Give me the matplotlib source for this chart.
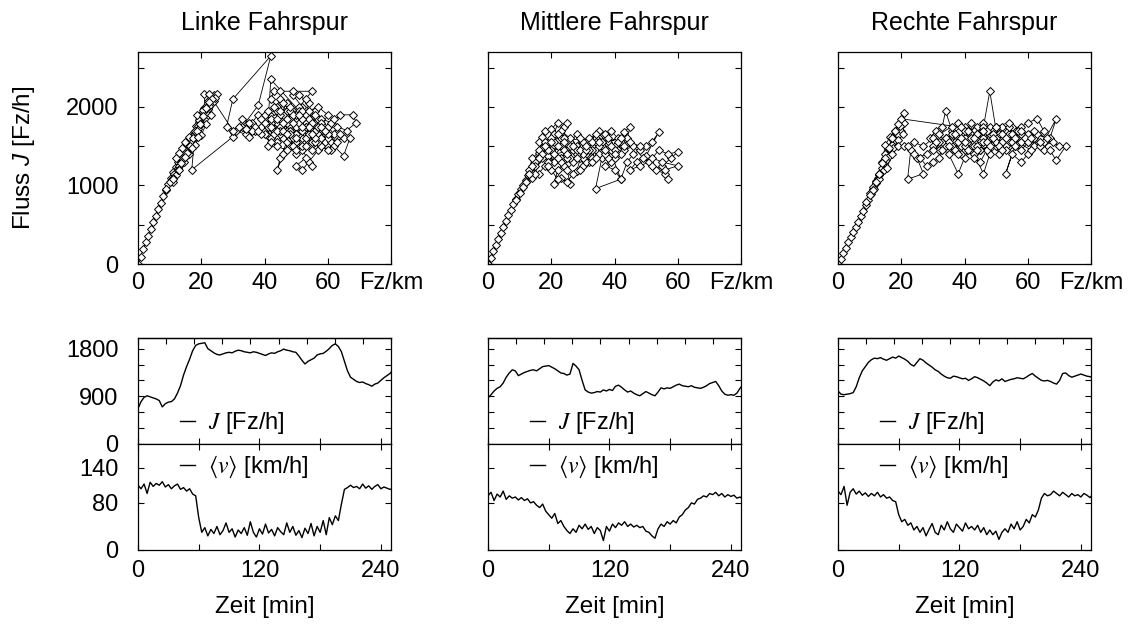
import numpy as np
import matplotlib
matplotlib.use('Agg')
import matplotlib.pyplot as plt
from matplotlib.ticker import MultipleLocator

plt.rcParams['font.family'] = ['Liberation Sans', 'DejaVu Sans']
plt.rcParams['mathtext.fontset'] = 'custom'
plt.rcParams['mathtext.it'] = 'Liberation Sans:italic'
plt.rcParams['mathtext.rm'] = 'Liberation Sans'

# =========================================================
# DATEN: Fundamentaldiagramme (Dichte [Fz/km], Fluss [Fz/h])
# =========================================================
dichte_links = [
    0, 0.8, 1.6, 2.4, 3.2, 4.0, 4.8, 5.6, 6.4, 7.2,
    8.0, 8.8, 9.6, 10.4, 11.2, 12.0, 12.8, 13.6, 14.4, 15.2,
    16.0, 16.8, 17.6, 18.4, 19.2, 20.0, 21.0, 22.0, 23.0, 24.0,
    25.0, 23.5, 22, 20.5, 19, 17.5, 16.5, 15.5, 14.5, 13.5,
    12.5, 11.5, 11, 12, 13, 14, 15, 16, 17, 18,
    19, 20, 21, 21, 22.5, 24, 22, 20, 18, 17,
    16, 15, 14, 13, 12, 14.5, 16, 18, 20, 21.5,
    23, 24.5, 22.5, 20.5, 18.5, 17, 30, 28, 30, 42,
    38, 33, 36, 38, 40, 43, 45, 47, 44, 42,
    46, 48, 50, 52, 49, 51, 54, 53, 56, 58,
    55, 52, 50, 48, 46, 44, 41, 43, 45, 47,
    49, 51, 53, 55, 57, 60, 62, 59, 57, 54,
    52, 50, 53, 55, 52, 49, 47, 45, 44, 46,
    48, 50, 52, 54, 56, 58, 61, 64, 68, 69,
    66, 63, 61, 65, 67, 65, 62, 60, 57, 55,
    52, 50, 48, 46, 44, 42, 43, 45, 49, 55,
    53, 51, 49, 47, 45, 42, 39, 37, 35, 33,
    31, 34, 37, 40, 42, 45, 47, 50, 53, 56,
    58, 60, 63, 61, 58, 55, 52, 49, 47, 44,
    42, 39, 36, 34, 32, 35, 38, 41, 42, 51,
    53, 50, 48, 52, 55, 57, 59, 62, 64, 60,
    40, 42, 44, 46, 48, 50, 52, 54, 56, 58,
    57, 55, 53, 51, 49, 47, 45, 43, 41, 39,
    41, 43, 45, 47, 49, 51, 53, 55, 57, 59,
    58, 56, 54, 52, 50, 48, 46, 44, 42, 40,
    44, 46, 48, 50, 52, 54, 56, 53, 50, 47,
    45, 48, 51, 54, 57, 60, 58, 55, 52, 49,
    30, 23.5, 22.5, 21.5, 20.5, 19.5, 18.5, 17.5, 16.5, 15.5,
    14.5, 13.5, 12.5, 11, 10, 9, 11, 13, 15, 17, 19,
]
fluss_links = [
    0, 95, 185, 275, 360, 450, 530, 615, 700, 780,
    860, 940, 1020, 1100, 1170, 1240, 1300, 1350, 1400, 1460,
    1530, 1600, 1680, 1760, 1840, 1910, 1990, 2070, 2120, 2150,
    2160, 2050, 1980, 1880, 1760, 1640, 1550, 1460, 1380, 1300,
    1220, 1140, 1050, 1130, 1250, 1350, 1420, 1500, 1580, 1660,
    1720, 1800, 1920, 2160, 2160, 2080, 1900, 1780, 1700, 1560,
    1620, 1550, 1480, 1420, 1350, 1300, 1400, 1520, 1640, 1780,
    1900, 2120, 2010, 1960, 1900, 1200, 1620, 1750, 2100, 2650,
    2020, 1750, 1800, 1900, 1850, 1950, 2100, 2050, 1800, 1700,
    1650, 1750, 1850, 2000, 2150, 2150, 2050, 1900, 1800, 1700,
    1600, 1550, 1400, 1500, 1600, 1550, 1500, 1700, 1850, 1950,
    1800, 1700, 1650, 1750, 1850, 1750, 1650, 1550, 1450, 1300,
    1200, 1250, 1350, 1250, 1450, 1650, 1550, 1350, 1200, 1400,
    1600, 1700, 1800, 1850, 1950, 1850, 1800, 1900, 1900, 1800,
    1700, 1750, 1550, 1600, 1600, 1380, 1500, 1600, 1650, 1700,
    1650, 1550, 1850, 1900, 2000, 2100, 2200, 2200, 2200, 2200,
    2100, 2000, 1950, 1800, 1750, 1800, 1750, 1700, 1800, 1850,
    1700, 1650, 1750, 1650, 1600, 1650, 1700, 1750, 1800, 1700,
    1600, 1650, 1550, 1450, 1500, 1550, 1600, 1500, 1450, 1500,
    1550, 1650, 1700, 1720, 1750, 1620, 1700, 1750, 2350, 1950,
    1750, 1650, 1700, 1500, 1450, 1550, 1700, 1850, 1650, 1450,
    1900, 1850, 1950, 2050, 1950, 1900, 1950, 1850, 1900, 1800,
    1750, 1800, 1750, 1800, 1900, 1850, 1900, 2000, 1950, 1850,
    1750, 1650, 1700, 1650, 1600, 1650, 1600, 1650, 1750, 1700,
    1600, 1550, 1650, 1700, 1650, 1700, 1800, 1700, 1750, 1800,
    1850, 1700, 1650, 1600, 1850, 1750, 1600, 1500, 1450, 1650,
    1950, 2000, 1900, 1950, 2000, 1900, 1750, 1650, 1750, 1800,
    1700, 2100, 2060, 1990, 1880, 1780, 1700, 1600, 1500, 1420,
    1350, 1280, 1200, 1100, 1040, 950, 1080, 1200, 1360, 1480, 1620,
]

dichte_mitte = [
    0, 0.8, 1.6, 2.4, 3.2, 4.0, 4.8, 5.6, 6.4, 7.2,
    8.0, 8.8, 9.6, 10.4, 11.2, 12.0, 12.8, 13.6, 14.4, 15.2,
    16.0, 17.0, 18.0, 19, 17, 16, 18, 20, 22, 21,
    23, 24, 25, 23, 20, 18, 15, 13, 14, 16,
    17, 19, 21, 23, 25, 26, 28, 29, 27, 24,
    22, 21, 23, 26, 25, 27, 29, 31, 33, 35,
    34, 32, 30, 28, 30, 32, 35, 37, 39, 41,
    38, 36, 38, 40, 42, 44, 45, 43, 41, 39,
    37, 40, 42, 44, 46, 48, 50, 52, 54, 50,
    47, 45, 48, 51, 53, 56, 57, 55, 58, 60,
    57, 54, 52, 55, 60, 56, 52, 49, 46, 43,
    40, 38, 36, 34, 42, 39, 37, 35, 33, 31,
    29, 27, 25, 22, 20, 18, 16, 14, 12, 13,
    15, 17, 19, 21, 23, 26, 28, 31, 34, 36,
    33, 30, 27, 30, 33, 36, 39, 42, 45, 48,
    16, 18, 20, 22, 24, 26, 28, 30, 32, 34,
    36, 38, 40, 38, 36, 34, 32, 30, 28, 26,
    24, 22, 20, 18, 17, 19, 21, 23, 25, 27,
    29, 31, 33, 35, 37, 39, 41, 43, 40, 37,
    34, 31, 28, 25, 22, 19, 24, 29, 35, 42,
    16, 15, 14, 13, 12, 11, 10, 9,
]
fluss_mitte = [
    0, 80, 160, 240, 320, 400, 470, 550, 620, 690,
    760, 830, 890, 950, 1010, 1070, 1130, 1190, 1250, 1300,
    1360, 1420, 1480, 1550, 1620, 1560, 1700, 1720, 1800, 1650,
    1600, 1740, 1800, 1500, 1450, 1400, 1300, 1200, 1350, 1420,
    1480, 1380, 1300, 1350, 1450, 1550, 1650, 1500, 1400, 1250,
    1200, 1020, 1100, 1020, 1200, 1300, 1350, 1400, 1500, 1600,
    1450, 1300, 1250, 1180, 1450, 1550, 1700, 1650, 1700, 1600,
    1550, 1450, 1400, 1500, 1550, 1600, 1750, 1680, 1450, 1300,
    1250, 1200, 1080, 1300, 1400, 1450, 1500, 1560, 1680, 1380,
    1300, 1200, 1250, 1300, 1200, 1150, 1080, 1250, 1350, 1430,
    1400, 1450, 1350, 1300, 1250, 1200, 1250, 1350, 1500, 1450,
    1350, 1450, 1350, 960, 1080, 1400, 1500, 1400, 1350, 1300,
    1200, 1150, 1050, 1080, 1200, 1250, 1150, 1100, 1050, 1150,
    1250, 1350, 1450, 1550, 1700, 1600, 1500, 1550, 1600, 1550,
    1450, 1350, 1450, 1400, 1300, 1500, 1450, 1400, 1550, 1500,
    1450, 1550, 1600, 1500, 1450, 1350, 1400, 1500, 1450, 1550,
    1500, 1600, 1450, 1350, 1550, 1650, 1600, 1550, 1450, 1500,
    1600, 1650, 1550, 1500, 1400, 1300, 1400, 1300, 1350, 1500,
    1450, 1450, 1550, 1500, 1400, 1500, 1550, 1500, 1400, 1450,
    1350, 1500, 1350, 1400, 1350, 1250, 1550, 1600, 1550, 1600,
    1350, 1150, 1250, 1150, 1050, 980, 900, 820,
]

dichte_rechts = [
    0, 0.8, 1.6, 2.4, 3.2, 4.0, 4.8, 5.6, 6.4, 7.2,
    8.0, 8.8, 9.6, 10.4, 11.2, 12.0, 12.8, 13.6, 14.4, 15.2,
    16.0, 16.8, 17.6, 18.4, 19.2, 20.0, 21.0, 20, 19, 18,
    17, 16, 15, 14, 13, 12, 11, 10, 11.5, 13,
    14.5, 16, 17.5, 19, 20.5, 21, 19.5, 18, 16.5, 15,
    14, 13, 15.5, 17, 19, 21, 23, 22, 27, 25,
    28, 30, 32, 29, 31, 33, 34, 36, 38, 37,
    35, 38, 40, 42, 44, 46, 44, 42, 40, 38,
    40, 43, 46, 48, 50, 48, 46, 44, 42, 40,
    43, 46, 48, 50, 52, 54, 56, 58, 60, 63,
    65, 62, 60, 58, 56, 53, 55, 58, 60, 62,
    65, 69, 67, 65, 67, 69, 72, 70, 68, 64,
    61, 57, 54, 51, 49, 47, 45, 43, 41, 39,
    36, 34, 32, 30, 28, 26, 24, 22, 24, 27,
    30, 33, 36, 39, 42, 45, 48, 51, 54, 57,
    60, 63, 66, 62, 58, 55, 52, 49, 46, 43,
    40, 37, 41, 44, 47, 50, 53, 56, 45, 39,
    30, 32, 34, 36, 38, 40, 42, 44, 46, 48,
    50, 52, 54, 56, 58, 55, 52, 49, 46, 43,
    40, 37, 34, 31, 33, 35, 37, 39, 41, 43,
    45, 47, 49, 51, 53, 55, 57, 59, 56, 53,
    50, 47, 44, 41, 38, 35, 32, 36, 40, 44,
    48, 52, 56, 60, 64, 61, 58, 54, 50, 46,
    20, 19, 18, 17, 16, 15, 14, 13, 12, 11, 10, 9,
]
fluss_rechts = [
    0, 70, 140, 210, 280, 345, 410, 475, 540, 610,
    680, 750, 820, 890, 960, 1030, 1100, 1170, 1240, 1320,
    1400, 1480, 1560, 1640, 1720, 1790, 1920, 1700, 1640, 1580,
    1520, 1460, 1400, 1220, 1130, 1060, 980, 900, 960, 1080,
    1200, 1380, 1480, 1580, 1650, 1800, 1760, 1700, 1620, 1520,
    1300, 1150, 1220, 1400, 1500, 1500, 1450, 1080, 1150, 1350,
    1400, 1500, 1450, 1600, 1700, 1750, 1950, 1700, 1600, 1500,
    1400, 1150, 1350, 1450, 1550, 1650, 1750, 1800, 1650, 1800,
    1750, 1700, 1800, 1750, 1700, 2200, 1750, 1600, 1500, 1450,
    1400, 1150, 1400, 1500, 1600, 1650, 1700, 1750, 1800, 1850,
    1700, 1600, 1550, 1450, 1500, 1150, 1400, 1300, 1400, 1500,
    1550, 1850, 1600, 1450, 1450, 1320, 1500, 1500, 1550, 1500,
    1450, 1550, 1500, 1400, 1550, 1450, 1300, 1350, 1550, 1500,
    1550, 1500, 1350, 1300, 1250, 1350, 1400, 1500, 1550, 1500,
    1600, 1550, 1650, 1750, 1650, 1550, 1600, 1650, 1550, 1600,
    1650, 1650, 1600, 1700, 1650, 1750, 1750, 1700, 1600, 1550,
    1600, 1550, 1700, 1650, 1550, 1600, 1500, 1600, 1450, 1400,
    1450, 1550, 1600, 1500, 1550, 1700, 1600, 1650, 1550, 1650,
    1550, 1650, 1750, 1600, 1550, 1650, 1550, 1650, 1700, 1600,
    1500, 1650, 1600, 1550, 1450, 1550, 1450, 1600, 1700, 1500,
    1450, 1550, 1600, 1500, 1450, 1550, 1700, 1600, 1500, 1600,
    1750, 1700, 1500, 1450, 1400, 1500, 1650, 1750, 1550, 1450,
    1500, 1450, 1600, 1550, 1550, 1600, 1700, 1800, 1750, 1700,
    1850, 1780, 1700, 1600, 1480, 1350, 1280, 1150, 1040, 940, 880, 790,
]

# =========================================================
# DATEN: Zeitreihen (alle 3 min, 0 ... 252 min)
# =========================================================
zeit = np.arange(0, 253, 3)

J_links = [
    670, 800, 880, 910, 890, 870, 850, 820, 700, 760,
    790, 800, 850, 960, 1100, 1300, 1460, 1600, 1760, 1860,
    1890, 1900, 1910, 1800, 1760, 1720, 1690, 1680, 1700, 1720,
    1730, 1720, 1750, 1770, 1760, 1740, 1730, 1720, 1740, 1730,
    1710, 1690, 1670, 1700, 1720, 1710, 1740, 1760, 1790, 1770,
    1760, 1740, 1730, 1660, 1580, 1510, 1560, 1590, 1620, 1680,
    1700, 1710, 1750, 1800, 1860, 1890, 1840, 1740, 1560, 1380,
    1260, 1220, 1180, 1160, 1170, 1140, 1120, 1090, 1130, 1150,
    1200, 1250, 1290, 1330, 1400,
]
v_links = [
    110, 104, 112, 96, 115, 108, 113, 110, 116, 107,
    111, 104, 109, 112, 103, 106, 100, 104, 95, 92,
    55, 30, 38, 24, 35, 28, 40, 26, 33, 46,
    30, 36, 22, 34, 28, 38, 25, 48, 30, 22,
    36, 27, 44, 29, 35, 24, 38, 31, 26, 46,
    30, 40, 25, 33, 21, 37, 28, 45, 24, 40,
    30, 50, 26, 55, 43, 58, 50, 78, 103, 106,
    110, 106, 108, 104, 112, 105, 109, 103, 108, 111,
    104, 107, 105, 103, 104,
]

J_mitte = [
    870, 930, 1000, 1050, 1080, 1150, 1260, 1340, 1400, 1380,
    1290, 1320, 1350, 1370, 1390, 1400, 1380, 1420, 1460, 1470,
    1480, 1450, 1420, 1380, 1340, 1330, 1300, 1320, 1520, 1470,
    1400, 1200, 1020, 980, 960, 970, 990, 980, 1020, 1000,
    1030, 1010, 1090, 1110, 1070, 1020, 980, 1000, 960, 930,
    910, 950, 990, 960, 930, 910, 980, 1060, 1040, 1060,
    1050, 1080, 1110, 1130, 1100, 1090, 1080, 1100, 1070, 1060,
    1050, 1070, 1100, 1140, 1160, 1180, 1100, 1000, 940, 920,
    930, 920, 960, 1050, 1120,
]
v_mitte = [
    92, 98, 84, 95, 90, 100, 86, 92, 88, 90,
    85, 89, 84, 87, 80, 82, 76, 72, 78, 66,
    60, 54, 62, 45, 50, 40, 33, 28, 36, 30,
    42, 36, 44, 35, 40, 28, 38, 33, 16, 40,
    32, 44, 38, 46, 42, 48, 40, 44, 39, 42,
    38, 40, 32, 30, 24, 20, 36, 44, 40, 48,
    44, 50, 46, 56, 60, 68, 72, 80, 78, 86,
    88, 92, 90, 96, 94, 98, 92, 96, 90, 94,
    91, 93, 88, 90, 86,
]

J_rechts = [
    1000, 940, 930, 940, 950, 970, 1080, 1250, 1380, 1460,
    1540, 1590, 1620, 1610, 1630, 1600, 1580, 1610, 1640, 1620,
    1660, 1630, 1600, 1560, 1500, 1470, 1540, 1610, 1580, 1530,
    1490, 1450, 1400, 1370, 1320, 1280, 1250, 1240, 1280, 1270,
    1250, 1230, 1240, 1200, 1230, 1270, 1250, 1220, 1190, 1150,
    1100, 1170, 1210, 1190, 1230, 1180, 1200, 1220, 1230, 1250,
    1240, 1230, 1260, 1300, 1330, 1280, 1240, 1200, 1190, 1200,
    1180, 1150, 1130, 1200, 1330, 1340, 1290, 1260, 1280, 1300,
    1320, 1300, 1280, 1270, 1250,
]
v_rechts = [
    100, 94, 108, 76, 98, 104, 95, 100, 93, 97,
    91, 96, 92, 98, 90, 94, 88, 90, 84, 82,
    60, 48, 52, 42, 46, 34, 40, 30, 38, 24,
    35, 45, 30, 26, 42, 34, 48, 36, 30, 44,
    38, 32, 46, 36, 40, 34, 42, 30, 38, 26,
    34, 26, 32, 18, 30, 36, 30, 44, 36, 48,
    34, 40, 52, 46, 60, 56, 68, 88, 96, 92,
    94, 100, 96, 92, 98, 94, 90, 96, 92, 94,
    90, 96, 93, 89, 95,
]

titel = ['Linke Fahrspur', 'Mittlere Fahrspur', 'Rechte Fahrspur']
dichte = [dichte_links, dichte_mitte, dichte_rechts]
fluss = [fluss_links, fluss_mitte, fluss_rechts]
J_reihen = [J_links, J_mitte, J_rechts]
v_reihen = [v_links, v_mitte, v_rechts]

# =========================================================
# LAYOUT (Pixel der Vorlage)
# =========================================================
W, H = 1132, 624
fig = plt.figure(figsize=(W / 100, H / 100), dpi=100)

spalten_x = [138, 488, 838]
breite = 253
FS = 17
T_MAX = 250


def achse(x0, y_oben, y_unten):
    return fig.add_axes([x0 / W, 1 - y_unten / H, breite / W, (y_unten - y_oben) / H])


def rahmen(ax):
    ax.tick_params(which='both', direction='in', top=True, right=True,
                   labelsize=FS, width=0.8, length=4)
    for s in ax.spines.values():
        s.set_linewidth(0.9)


def legende(ax, y):
    leg = ax.legend(loc='center left', bbox_to_anchor=(0.166, y),
                    frameon=False, fontsize=FS, handlelength=0.62,
                    handletextpad=0.55, borderpad=0, borderaxespad=0)
    for t in leg.get_texts():
        t.set_math_fontfamily('stix')
    return leg


for i in range(3):
    x0 = spalten_x[i]

    # ---------------- Fundamentaldiagramm ----------------
    ax = achse(x0, 52, 264)
    ax.plot(dichte[i], fluss[i], '-', color='black', lw=0.6,
            marker='D', ms=4, mfc='white', mec='black', mew=0.7)
    ax.set_xlim(0, 80)
    ax.set_ylim(0, 2700)
    ax.set_xticks([0, 20, 40, 60, 80])
    ax.set_xticklabels(['0', '20', '40', '60', 'Fz/km'])
    ax.set_yticks([0, 500, 1000, 1500, 2000, 2500])
    if i == 0:
        ax.set_yticklabels(['0', '', '1000', '', '2000', ''])
    else:
        ax.set_yticklabels([])
    rahmen(ax)
    ax.tick_params(axis='x', pad=6)
    ax.tick_params(axis='y', pad=14)
    ax.set_title(titel[i], fontsize=18, pad=16)

    # ---------------- Fluss-Zeitreihe ----------------
    axJ = achse(x0, 338, 444)
    axJ.plot(zeit, J_reihen[i], color='black', lw=1.0, label=r'$J$ [Fz/h]')
    axJ.set_xlim(0, T_MAX)
    axJ.set_ylim(0, 2000)
    axJ.set_xticks(range(0, 241, 60))
    axJ.set_xticklabels([])
    axJ.set_yticks(range(0, 1801, 300))
    if i == 0:
        axJ.set_yticklabels(['0', '', '', '900', '', '', '1800'])
    else:
        axJ.set_yticklabels([])
    rahmen(axJ)
    axJ.tick_params(axis='x', top=False)
    axJ.tick_params(axis='y', pad=14)
    oben = axJ.secondary_xaxis('top')
    oben.xaxis.set_major_locator(MultipleLocator(T_MAX / 9))
    oben.tick_params(direction='in', length=4, width=0.8, labeltop=False)
    oben.spines['top'].set_linewidth(0.9)
    legende(axJ, 0.20)

    # ---------------- Geschwindigkeit ----------------
    axv = achse(x0, 444, 550)
    axv.plot(zeit, v_reihen[i], color='black', lw=1.0,
             label=r'$\langle v\rangle$ [km/h]')
    axv.set_xlim(0, T_MAX)
    axv.set_ylim(0, 180)
    axv.set_xticks(range(0, 241, 60))
    axv.set_xticklabels(['0', '', '120', '', '240'])
    axv.set_yticks([0, 80, 140])
    if i != 0:
        axv.set_yticklabels([])
    rahmen(axv)
    axv.tick_params(axis='x', pad=7.5)
    axv.tick_params(axis='y', pad=14)
    legende(axv, 0.78)

    fig.text((x0 + breite / 2) / W, 1 - 607 / H, 'Zeit [min]',
             ha='center', va='center', fontsize=17.5)

fig.text(24 / W, 1 - 158 / H, r'Fluss $J$ [Fz/h]', rotation=90,
         ha='center', va='center', fontsize=17.5)

fig.savefig('out.png', dpi=100)
